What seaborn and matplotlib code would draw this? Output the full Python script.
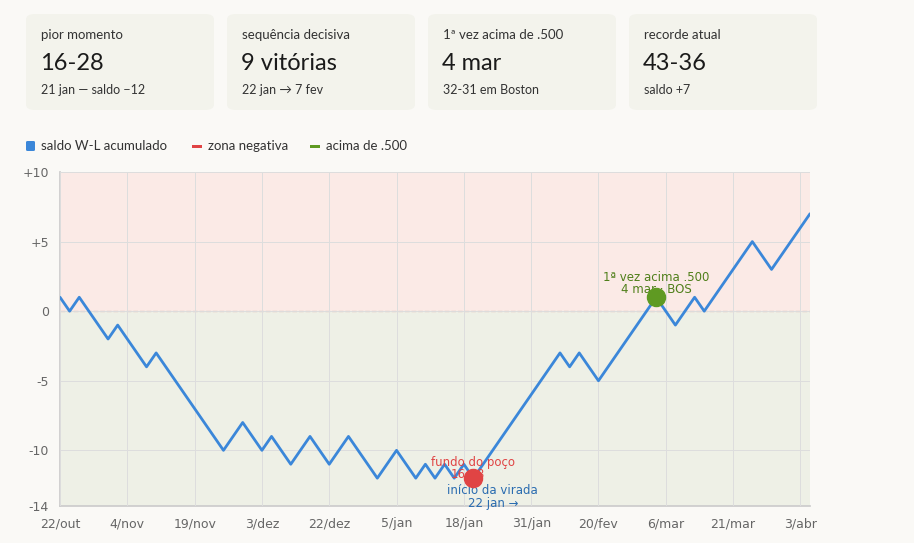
import matplotlib
matplotlib.use("Agg")
import matplotlib.pyplot as plt
import seaborn as sns
import pandas as pd
import numpy as np
from matplotlib.patches import FancyBboxPatch

# cumulative W-L balance per game (79 games)
saldo = [1, 0, 1, 0, -1, -2, -1, -2, -3, -4, -3, -4, -5, -6, -7, -8, -9, -10, -9, -8,
         -9, -10, -9, -10, -11, -10, -9, -10, -11, -10, -9, -10, -11, -12, -11, -10, -11, -12, -11, -12,
         -11, -12, -11, -12, -11, -10, -9, -8, -7, -6, -5, -4, -3, -4, -3, -4, -5, -4, -3, -2,
         -1, 0, 1, 0, -1, 0, 1, 0, 1, 2, 3, 4, 5, 4, 3, 4, 5, 6, 7]
tick_labels = ["22/out", "4/nov", "19/nov", "3/dez", "22/dez", "5/jan", "18/jan",
               "31/jan", "20/fev", "6/mar", "21/mar", "3/abr"]
cards = [("pior momento", "16-28", "21 jan — saldo −12"),
         ("sequência decisiva", "9 vitórias", "22 jan → 7 fev"),
         ("1ª vez acima de .500", "4 mar", "32-31 em Boston"),
         ("recorde atual", "43-36", "saldo +7")]
low_idx, low_label = 43, "16-28"
up_idx = 62

sns.set_theme(style="white")
plt.rcParams['font.family'] = ['DejaVu Sans']
BG = "#faf9f6"
W, H = 914, 543
fig = plt.figure(figsize=(W/100, H/100), dpi=100, facecolor=BG)

# cards
for i, (lab, big, sub) in enumerate(cards):
    x0 = 26 + i*201
    fig.patches.append(FancyBboxPatch((x0/W, 1-110/H), 188/W, 96/H,
                       boxstyle="round,pad=0,rounding_size=0.01", transform=fig.transFigure,
                       facecolor="#f3f3ec", edgecolor="none"))
    fig.text((x0+15)/W, 1-35/H, lab, fontsize=9.5, color="#333", va="center", family="Lato")
    fig.text((x0+14)/W, 1-63/H, big, fontsize=17, color="#1a1a1a", va="center", family="Lato")
    fig.text((x0+15)/W, 1-90/H, sub, fontsize=9, color="#333", va="center", family="Lato")

# legend
fig.patches.append(FancyBboxPatch((26/W, 1-151/H), 9/W, 10/H, boxstyle="round,pad=0,rounding_size=0.002",
                   transform=fig.transFigure, facecolor="#3b87d9", edgecolor="none"))
fig.text(41/W, 1-146/H, "saldo W-L acumulado", fontsize=9.5, color="#333", va="center", family="Lato")
fig.patches.append(plt.Rectangle((192/W, 1-148/H), 10/W, 3/H, transform=fig.transFigure,
                   facecolor="#e04444", edgecolor="none"))
fig.text(208/W, 1-146/H, "zona negativa", fontsize=9.5, color="#333", va="center", family="Lato")
fig.patches.append(plt.Rectangle((310/W, 1-148/H), 10/W, 3/H, transform=fig.transFigure,
                   facecolor="#5f9a22", edgecolor="none"))
fig.text(326/W, 1-146/H, "acima de .500", fontsize=9.5, color="#333", va="center", family="Lato")

ax = fig.add_axes([60/W, 1-506/H, 750/W, (506-172)/H])
ax.set_facecolor(BG)
n = len(saldo)
ax.axhspan(0, 10, color="#fbeae6", zorder=0)
ax.axhspan(-14, 0, color="#eef0e6", zorder=0)
ax.axhline(0, color="#e0a8a0", ls="--", lw=0.9, zorder=1)
df = pd.DataFrame({"jogo": np.arange(n), "saldo": saldo})
sns.lineplot(data=df, x="jogo", y="saldo", ax=ax, color="#3b87d9", lw=2, zorder=3,
             solid_joinstyle="round", solid_capstyle="round")
ax.set_xlim(0, n-1)
ax.set_ylim(-14, 10)
ax.set_xticks(np.arange(0, n, 7))
ax.set_xticklabels(tick_labels)
ax.set_yticks([10, 5, 0, -5, -10, -14])
ax.set_yticklabels(["+10", "+5", "0", "-5", "-10", "-14"])
ax.grid(True, color="#dddddd", lw=0.7)
ax.set_axisbelow(False)
for l in ax.get_xgridlines() + ax.get_ygridlines():
    l.set_zorder(1.5)
ax.tick_params(colors="#666", labelsize=9, length=0, pad=8)
for s in ["top", "right"]:
    ax.spines[s].set_visible(False)
for s in ["left", "bottom"]:
    ax.spines[s].set_color("#cccccc")
ax.set_xlabel(""); ax.set_ylabel("")

ax.plot(low_idx, saldo[low_idx], "o", ms=13, color="#e04444", zorder=4)
ax.plot(up_idx, saldo[up_idx], "o", ms=13, color="#5f9a22", zorder=4)
ax.text(low_idx, saldo[low_idx]+1.1, "fundo do poço", color="#e04444", fontsize=8.5, ha="center", va="center")
ax.text(low_idx-0.6, saldo[low_idx]+0.25, low_label, color="#e04444", fontsize=8.5, ha="center", va="center")
ax.text(low_idx+2, saldo[low_idx]-0.9, "início da virada", color="#2a6cb0", fontsize=8.5, ha="center", va="center")
ax.text(low_idx+2.1, saldo[low_idx]-1.8, "22 jan →", color="#2a6cb0", fontsize=8.5, ha="center", va="center")
ax.text(up_idx, saldo[up_idx]+1.4, "1ª vez acima .500", color="#4f7f1a", fontsize=8.5, ha="center", va="center")
ax.text(up_idx, saldo[up_idx]+0.55, "4 mar · BOS", color="#4f7f1a", fontsize=8.5, ha="center", va="center")

fig.savefig("out.png", dpi=100, facecolor=BG)
